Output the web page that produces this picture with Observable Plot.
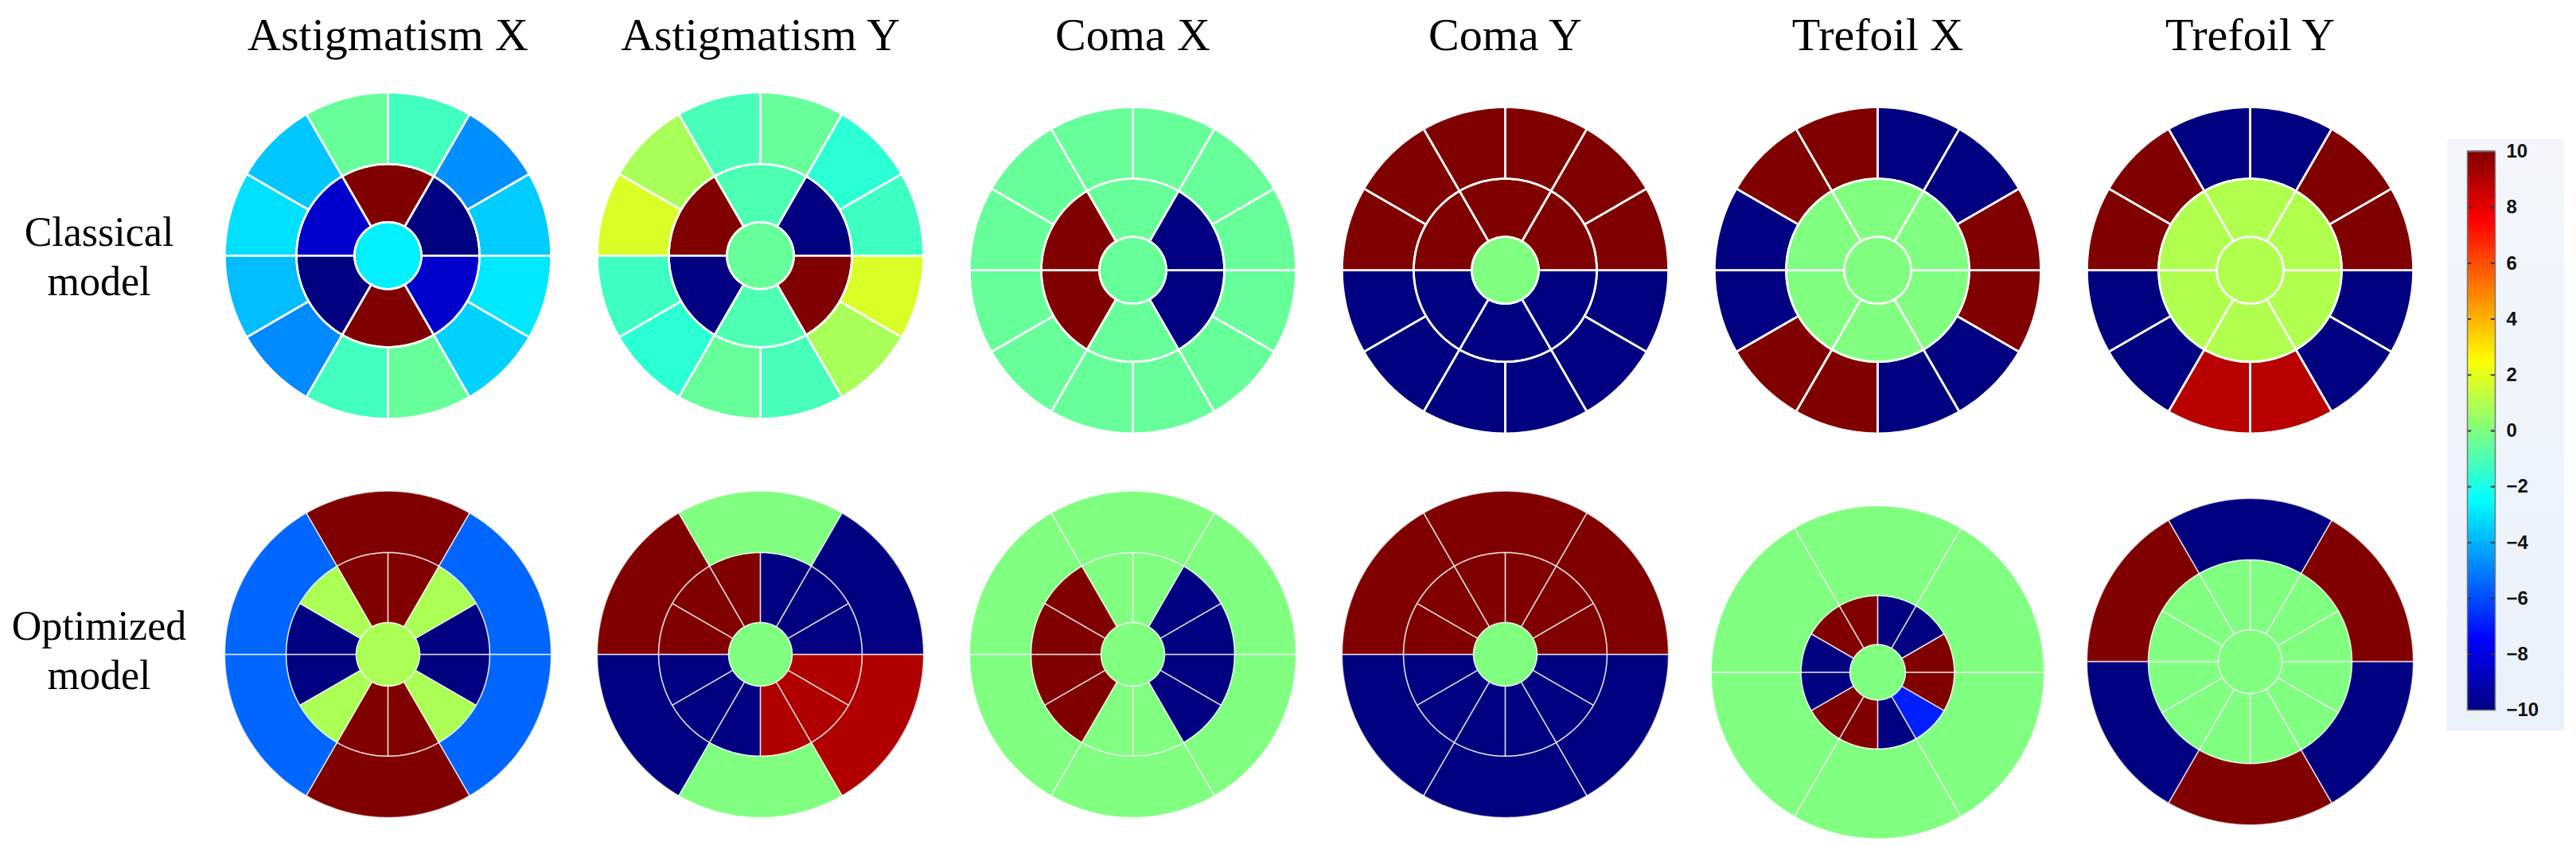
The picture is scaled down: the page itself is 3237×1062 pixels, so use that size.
<!DOCTYPE html>
<html>
<head>
<meta charset="utf-8">
<script src="https://cdn.jsdelivr.net/npm/d3@7"></script>
<script src="https://cdn.jsdelivr.net/npm/@observablehq/plot@0.6"></script>
<style>
  body { margin: 0; background: #ffffff; overflow: hidden; }
  #wrap { position: relative; width: 3237px; height: 1062px; }
  #wrap > svg { position: absolute; left: 0; top: 0; }
  #cbpanel { position: absolute; left: 3075px; top: 175px; width: 147px; height: 743px;
             background: linear-gradient(#f3f7fc, #eaf1fa); }
  #cbpanel > svg { position: absolute; left: 0; top: 0; }
</style>
</head>
<body>
<div id="wrap"></div>
<script>
// ---------------- data ----------------
const titles = ["Astigmatism X", "Astigmatism Y", "Coma X", "Coma Y", "Trefoil X", "Trefoil Y"];
const rowLabels = ["Classical\nmodel", "Optimized\nmodel"];

// Classical model: centre disc, inner ring (6 sectors, from the top, clockwise),
// outer ring (12 sectors, from 12 o'clock, clockwise)
const classicalCenter = [-2.8, -0.5, -0.5, 0, 0, 0.95];
const classicalInner = [
  [10, -10, -8.5, 10, -10, -8.5],
  [-1.0, -10, 10, -1.0, -10, 10],
  [-0.5, -10, -10, -0.5, 10, 10],
  [10, 10, -10, -10, -10, 10],
  [0, 0, 0, 0, 0, 0],
  [0.95, 0.95, 0.95, 0.95, 0.95, 0.95]
];
const classicalOuter = [
  [-1.25, -4.7, -3.5, -2.95, -3.4, -0.5, -1.25, -4.8, -3.8, -3.1, -3.6, -0.5],
  [-0.5, -1.65, -1.3, 1.75, 0.8, -1.1, -0.5, -1.65, -1.3, 1.75, 0.8, -1.1],
  [-0.5, -0.5, -0.5, -0.5, -0.5, -0.5, -0.5, -0.5, -0.5, -0.5, -0.5, -0.5],
  [10, 10, 10, -10, -10, -10, -10, -10, -10, 10, 10, 10],
  [-10, -10, 10, 10, -10, -10, 10, 10, -10, -10, 10, 10],
  [-10, 10, 10, -10, -10, 8.9, 8.9, -10, -10, 10, 10, -10]
];

// Optimized model: centre disc, inner ring (12 sectors, from 12 o'clock, clockwise),
// outer ring (6 sectors, from the top, clockwise)
const optimizedCenter = [0.85, 0, 0, 0, 0, 0];
const optimizedInner = [
  [10, 0.85, -10, -10, 0.85, 10, 10, 0.85, -10, -10, 0.85, 10],
  [-10, -10, -10, 9.05, 9.05, 9.05, -10, -10, -10, 10, 10, 10],
  [0, -10, -10, -10, -10, 0, 0, 10, 10, 10, 10, 0],
  [10, 10, 10, -10, -10, -10, -10, -10, -10, 10, 10, 10],
  [-10, -10, 10, 10, -6.9, -10, 10, 10, -10, -10, 10, 10],
  [0, 0, 0, 0, 0, 0, 0, 0, 0, 0, 0, 0]
];
const optimizedOuter = [
  [10, -5.5, -5.5, 10, -5.5, -5.5],
  [0, -10, 9.05, 0, -10, 10],
  [0, 0, 0, 0, 0, 0],
  [10, 10, -10, -10, -10, 10],
  [0, 0, 0, 0, 0, 0],
  [-10, 10, -10, 10, -10, 10]
];

const colorbarTicks = [-10, -8, -6, -4, -2, 0, 2, 4, 6, 8, 10];

// ---------------- layout (ring sizes and small vertical nudges, in outer-radius units) ----------------
const classicalRadii = [[0.205, 0.561, 1], [0.205, 0.561, 1], [0.205, 0.561, 1],
                        [0.205, 0.561, 1], [0.205, 0.561, 1], [0.205, 0.561, 1]];
const optimizedRadii = [[0.195, 0.624, 1], [0.195, 0.624, 1], [0.195, 0.624, 1],
                        [0.195, 0.624, 1], [0.17, 0.47, 1.02], [0.195, 0.624, 1]];
const classicalNudge = [0.06, 0.06, -0.03, -0.03, -0.03, -0.03];
const optimizedNudge = [0.03, 0.03, 0.03, 0.03, -0.08, -0.015];

// jet colour map
const jetDomain = [-10, -7.5, -2.5, 2.5, 7.5, 10];
const jetRange = ["#000080", "#0000ff", "#00ffff", "#ffff00", "#ff0000", "#800000"];
const colorScale = {type: "linear", domain: jetDomain, range: jetRange, interpolate: "rgb", clamp: true};

// ---------------- build sector polygons ----------------
function ring(values, r0, r1, base, dy) {
  const n = values.length, span = 360 / n, offset = n === 6 ? -span / 2 : 0;
  return values.flatMap((v, j) => {
    const a0 = offset + j * span, a1 = a0 + span;
    const steps = Math.ceil(span);
    const pts = [];
    for (let k = 0; k <= steps; k++) pts.push([a0 + (a1 - a0) * k / steps, r1]);
    if (r0 > 0) for (let k = steps; k >= 0; k--) pts.push([a0 + (a1 - a0) * k / steps, r0]);
    pts.push(pts[0]);
    return pts.map(([a, r]) => ({
      ...base, key: base.key + "-" + r0 + "-" + j, v,
      x: r * Math.sin(a * Math.PI / 180),
      y: r * Math.cos(a * Math.PI / 180) + dy
    }));
  });
}
function diagram(col, row, center, inner, outer, radii, dy) {
  const base = {col, row, key: col + "|" + row};
  return [
    ...ring([center], 0, radii[0], base, dy),
    ...ring(inner, radii[0], radii[1], base, dy),
    ...ring(outer, radii[1], radii[2], base, dy)
  ];
}
const classicalPts = titles.flatMap((t, i) =>
  diagram(t, rowLabels[0], classicalCenter[i], classicalInner[i], classicalOuter[i], classicalRadii[i], classicalNudge[i]));
const optimizedPts = titles.flatMap((t, i) =>
  diagram(t, rowLabels[1], optimizedCenter[i], optimizedInner[i], optimizedOuter[i], optimizedRadii[i], optimizedNudge[i]));
const allPts = classicalPts.concat(optimizedPts);

// ---------------- main chart ----------------
const chart = Plot.plot({
  width: 3237, height: 1062,
  marginLeft: 253, marginRight: 176, marginTop: 72, marginBottom: 0,
  x: {domain: [-1.1415, 1.1415], axis: null},
  y: {domain: [-1.141, 1.273], axis: null},
  fx: {domain: titles, padding: 0},
  fy: {domain: rowLabels, padding: 0},
  color: colorScale,
  style: {fontFamily: "'Liberation Serif', 'Times New Roman', serif", background: "transparent", color: "#000"},
  marks: [
    Plot.line(allPts, {x: "x", y: "y", z: "key", fill: "v", stroke: "none", fx: "col", fy: "row"}),
    Plot.line(classicalPts, {x: "x", y: "y", z: "key", stroke: "#ffffff", strokeWidth: 2.6, fx: "col", fy: "row"}),
    Plot.line(optimizedPts, {x: "x", y: "y", z: "key", stroke: "#ffffff", strokeWidth: 1.5, strokeOpacity: 0.6, fx: "col", fy: "row"}),
    Plot.axisFx({anchor: "top", tickSize: 0, tickPadding: 10, fontSize: 58, label: null}),
    Plot.axisFy({anchor: "left", tickSize: 0, tickPadding: 129, textAnchor: "middle", fontSize: 52, lineHeight: 1.19, label: null})
  ]
});
document.getElementById("wrap").appendChild(chart);

// ---------------- colour bar ----------------
const gradSteps = d3.range(-10, 10, 0.1);
const colorbar = Plot.plot({
  width: 147, height: 743,
  marginLeft: 25, marginRight: 87, marginTop: 15, marginBottom: 26,
  x: {domain: [0, 1], axis: null},
  y: {domain: [-10, 10], axis: null},
  color: colorScale,
  style: {fontFamily: "'Liberation Sans', Arial, sans-serif", background: "transparent", color: "#111"},
  marks: [
    Plot.rect(gradSteps, {x1: 0, x2: 1, y1: d => d, y2: d => d + 0.12, fill: d => d + 0.05}),
    Plot.ruleY(colorbarTicks.slice(1, -1), {x1: 0, x2: 0.15, stroke: "#333", strokeWidth: 2}),
    Plot.ruleY(colorbarTicks.slice(1, -1), {x1: 0.85, x2: 1, stroke: "#333", strokeWidth: 2}),
    Plot.frame({stroke: "#777", strokeWidth: 1.5}),
    Plot.axisY({anchor: "right", ticks: colorbarTicks, tickSize: 0, tickPadding: 14, fontSize: 24, fontWeight: "bold", label: null})
  ]
});
const panel = document.createElement("div");
panel.id = "cbpanel";
panel.appendChild(colorbar);
document.getElementById("wrap").appendChild(panel);
</script>
</body>
</html>
